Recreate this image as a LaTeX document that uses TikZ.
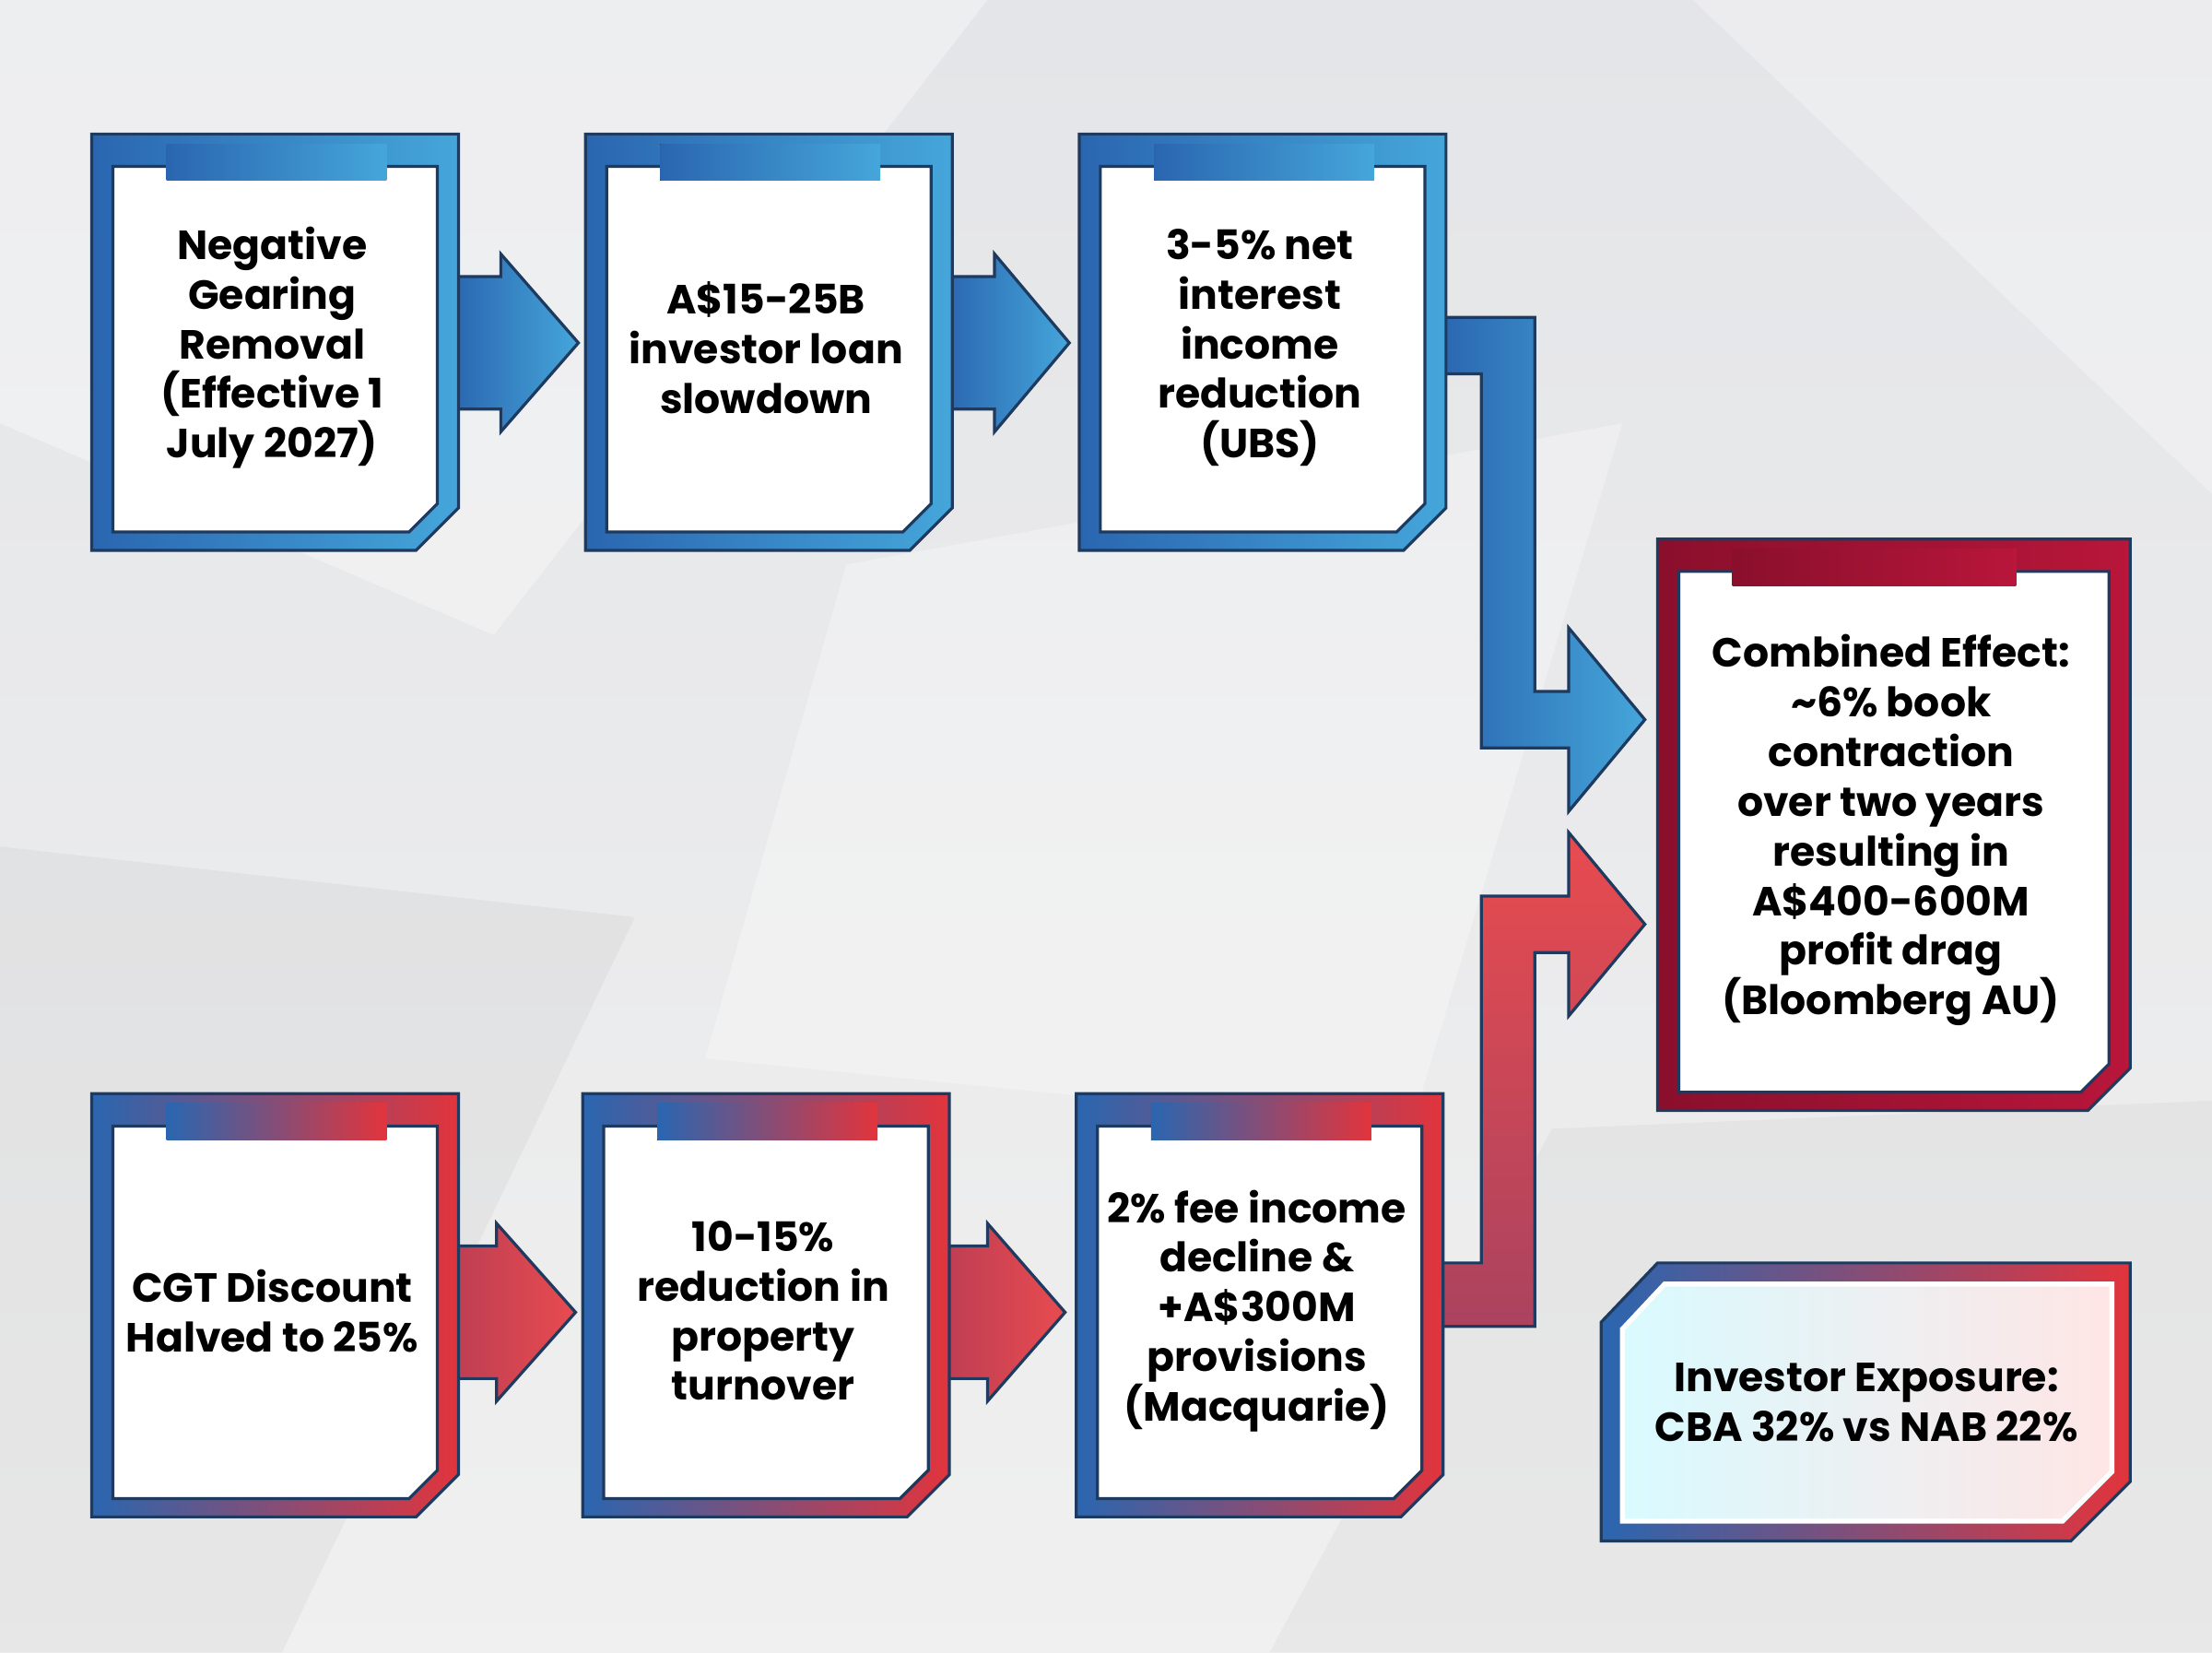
\documentclass[tikz,border=0pt]{standalone}
\usepackage{fontspec}
\setmainfont{Poppins}
\usetikzlibrary{positioning,calc}
\definecolor{navy}{HTML}{1F3A5F}
\definecolor{blueA}{HTML}{2A66B0}
\definecolor{blueB}{HTML}{45A6DA}
\definecolor{redA}{HTML}{E2343C}
\definecolor{redB}{HTML}{E84B4F}
\definecolor{wine}{HTML}{8A0F2C}
\definecolor{wineB}{HTML}{B8163A}
\definecolor{bg}{HTML}{E4E5E8}

\tikzset{
  cardtext/.style={font=\bfseries\fontsize{8.2}{10}\selectfont, align=center, text=black},
  outline/.style={draw=navy, line width=0.6pt},
  blueband/.style={left color=blueA, right color=blueB},
  mixband/.style={left color=blueA, right color=redA},
  wineband/.style={left color=wine, right color=wineB},
}

% card: x, y (top left), width, height, band style, node name, text
\newcommand{\card}[7]{
  \fill[#5, outline] (#1,#2) -- ++(#3,0) -- ++(0,#4-30) -- ++(-30,30) -- ++(-#3+30,0) -- cycle;
  \fill[white, outline] (#1+15,#2+23) -- ++(#3-30,0) -- ++(0,#4-56) -- ++(-20,20) -- ++(-#3+50,0) -- cycle;
  \fill[#5] (#1+53,#2+7) rectangle ++(0.6*#3,26);
  \node[cardtext] (#6) at (#1+0.5*#3-2, #2+0.5*#4+4) {#7};
}

% horizontal block arrow: start x, centre y, head x, tip x, shading
\newcommand{\blockarrow}[5]{
  \fill[#5, outline] (#1,#2-47) -- (#3,#2-47) -- (#3,#2-63) -- (#4,#2) -- (#3,#2+63)
    -- (#3,#2+47) -- (#1,#2+47) -- cycle;
}

\begin{document}
\begin{tikzpicture}[x=0.01cm, y=-0.01cm]
\useasboundingbox (0,0) rectangle (1568,1171);

% background
\fill[top color=bg, bottom color=gray!12] (0,0) rectangle (1568,1171);
\fill[white, opacity=0.35] (0,0) -- (700,0) -- (350,450) -- (0,300) -- cycle;
\fill[white, opacity=0.3] (600,400) -- (1150,300) -- (1000,800) -- (500,750) -- cycle;
\fill[gray, opacity=0.08] (0,600) -- (450,650) -- (200,1171) -- (0,1171) -- cycle;
\fill[white, opacity=0.3] (1200,0) -- (1568,0) -- (1568,350) -- cycle;
\fill[gray, opacity=0.07] (1100,800) -- (1568,780) -- (1568,1171) -- (900,1171) -- cycle;

% top row arrows
\blockarrow{320}{243}{355}{410}{blueband}
\blockarrow{670}{243}{705}{758}{blueband}

% bottom row arrows
\blockarrow{320}{930}{352}{408}{left color=redA!80!blueA, right color=redB}
\blockarrow{668}{930}{700}{755}{left color=redA!80!blueA, right color=redB}

% elbow arrows into the combined box
\fill[left color=blueA, right color=blueB, outline] (1020,225) -- (1088,225) -- (1088,490) -- (1112,490)
  -- (1112,445) -- (1166,510) -- (1112,575) -- (1112,530) -- (1050,530) -- (1050,265) -- (1020,265) -- cycle;
\fill[bottom color=redA!70!blueA, top color=redB, outline] (1018,895) -- (1050,895) -- (1050,635) -- (1112,635)
  -- (1112,590) -- (1166,655) -- (1112,720) -- (1112,675) -- (1088,675) -- (1088,940) -- (1018,940) -- cycle;

% top row
\card{65}{95}{260}{295}{blueband}{gearing}{Negative\\Gearing\\Removal\\(Effective 1\\July 2027)}
\card{415}{95}{260}{295}{blueband}{loans}{A\$15-25B\\investor loan\\slowdown}
\card{765}{95}{260}{295}{blueband}{nii}{3-5\% net\\interest\\income\\reduction\\(UBS)}

% bottom row
\card{65}{775}{260}{300}{mixband}{cgt}{CGT Discount\\Halved to 25\%}
\card{413}{775}{260}{300}{mixband}{turnover}{10-15\%\\reduction in\\property\\turnover}
\card{763}{775}{260}{300}{mixband}{fees}{2\% fee income\\decline \&\\+A\$300M\\provisions\\(Macquarie)}

% combined effect
\card{1175}{382}{335}{405}{wineband}{combined}{Combined Effect:\\\textasciitilde6\% book\\contraction\\over two years\\resulting in\\A\$400-600M\\profit drag\\(Bloomberg AU)}

% exposure box
\fill[left color=blueA, right color=redA, outline] (1175,895) -- (1510,895) -- (1510,1050) -- (1468,1092)
  -- (1135,1092) -- (1135,937) -- cycle;
\fill[left color=blue!12!cyan!15, right color=red!10, draw=white, line width=1pt]
  (1180,910) -- (1497,910) -- (1497,1043) -- (1462,1078) -- (1150,1078) -- (1150,942) -- cycle;
\node[cardtext] (exposure) at (1323,994) {Investor Exposure:\\CBA 32\% vs NAB 22\%};

\end{tikzpicture}
\end{document}
